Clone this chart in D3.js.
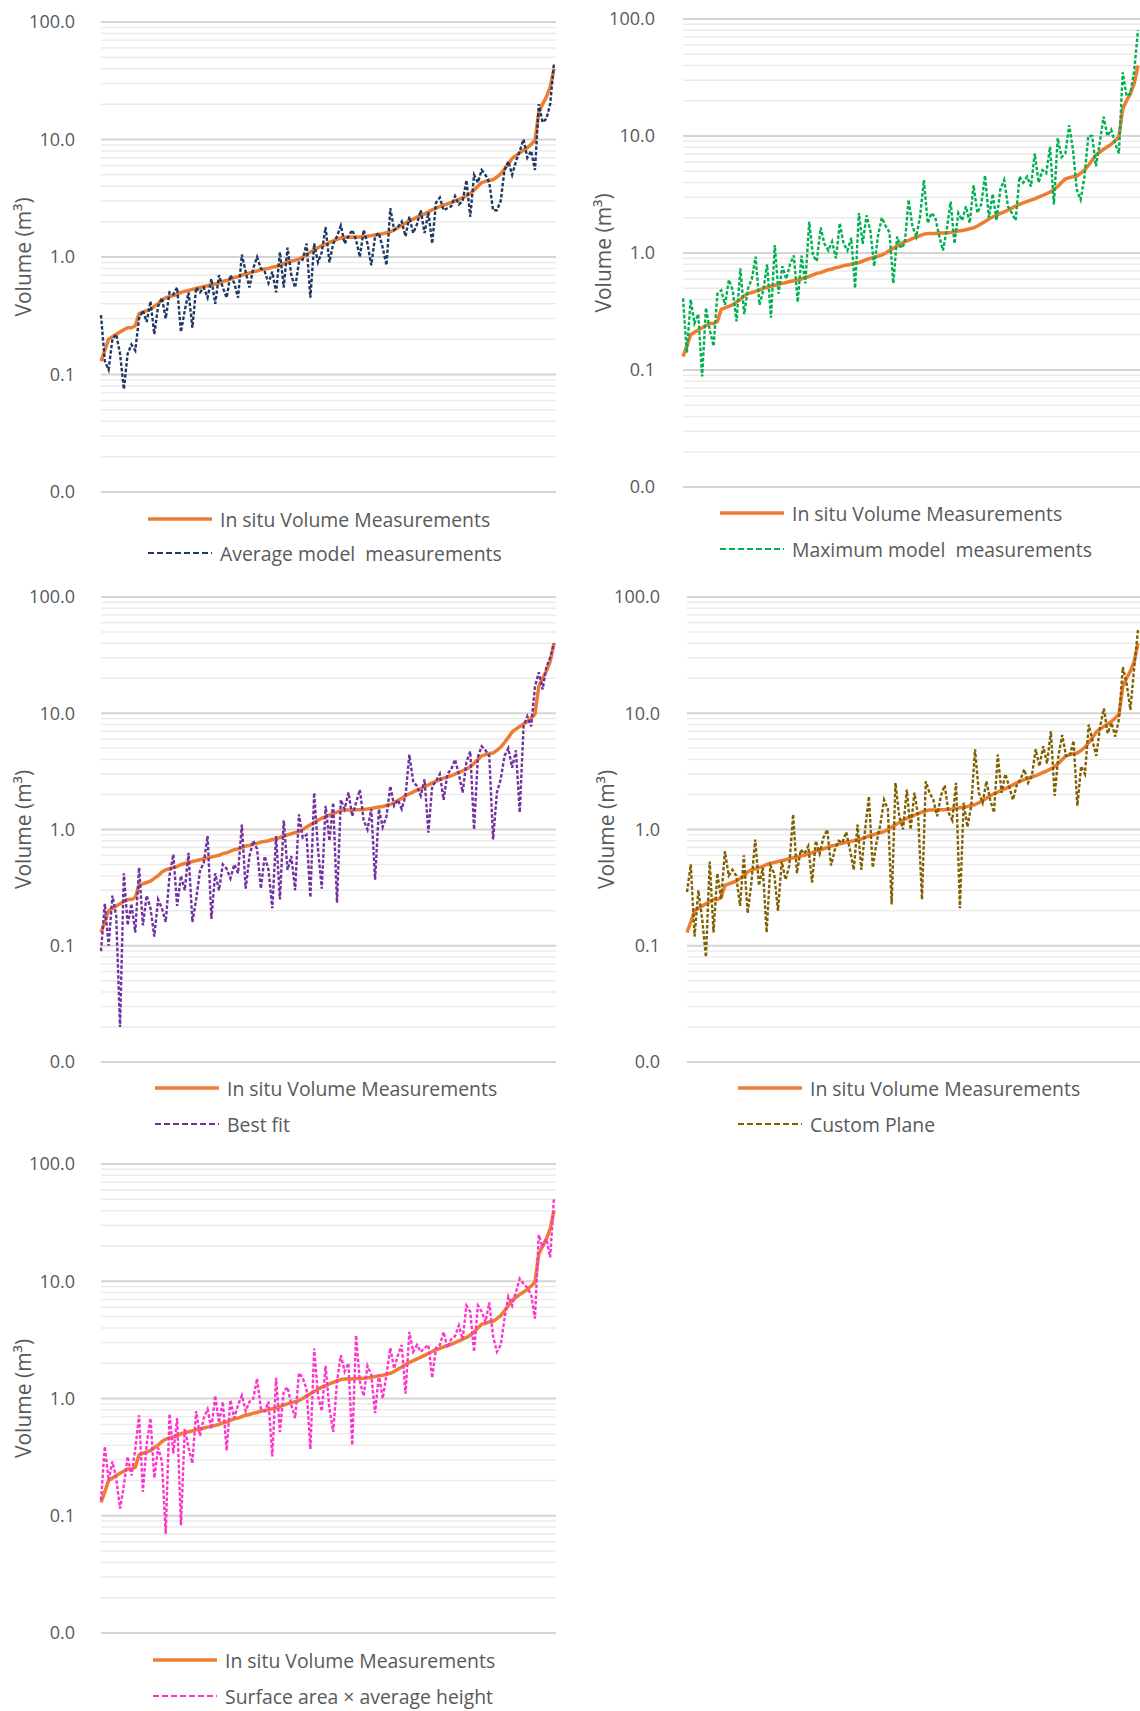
<!DOCTYPE html>
<html>
<head>
<meta charset="utf-8">
<title>Volume comparison</title>
<style>
  body { margin: 0; background: #fff; font-family: "Open Sans", sans-serif; }
  svg { display: block; }
</style>
</head>
<body>
<svg width="1140" height="1711"></svg>
<script src="https://d3js.org/d3.v7.min.js"></script>
<script>
// in situ volumes (m3), sorted; same series in every panel
const insitu = [0.13,0.16,0.2,0.21,0.22,0.23,0.24,0.25,0.25,0.26,
  0.33,0.34,0.35,0.36,0.38,0.40,0.43,0.45,0.46,0.47,
  0.48,0.50,0.51,0.52,0.53,0.54,0.55,0.56,0.57,0.58,
  0.59,0.60,0.62,0.63,0.65,0.67,0.68,0.70,0.72,0.73,
  0.75,0.76,0.78,0.79,0.80,0.82,0.83,0.85,0.88,0.90,
  0.92,0.94,0.96,1.0,1.05,1.1,1.15,1.2,1.25,1.28,
  1.33,1.37,1.41,1.45,1.47,1.47,1.47,1.48,1.48,1.49,
  1.50,1.52,1.54,1.56,1.58,1.61,1.64,1.70,1.78,1.86,
  1.95,2.03,2.1,2.18,2.25,2.33,2.42,2.52,2.6,2.68,
  2.76,2.83,2.9,3.0,3.1,3.2,3.32,3.47,3.7,4.0,
  4.3,4.4,4.5,4.55,4.8,5.1,5.6,6.2,6.9,7.3,
  7.7,8.1,8.5,9.1,9.8,17,20,23,28,40];

const avgModel = [0.32,0.13,0.11,0.2,0.22,0.15,0.075,0.15,0.18,0.16,
  0.3,0.35,0.28,0.42,0.22,0.38,0.45,0.3,0.5,0.48,
  0.55,0.23,0.35,0.5,0.25,0.55,0.5,0.55,0.45,0.65,
  0.4,0.7,0.55,0.45,0.7,0.6,0.45,1.05,0.75,0.55,
  0.8,1.0,0.8,0.75,0.6,0.75,0.5,1.1,0.55,1.2,
  0.7,0.55,0.9,0.95,1.3,0.45,1.3,0.9,1.1,1.8,
  0.9,1.3,1.5,1.85,1.3,1.5,1.7,1.4,1.0,1.7,
  1.3,0.85,1.5,1.6,1.2,0.85,2.6,1.7,1.8,2.0,
  1.5,2.2,1.6,1.9,2.5,1.6,2.4,1.3,2.9,3.2,
  2.5,2.6,2.7,3.3,2.8,3.0,4.5,2.2,5.0,4.3,
  5.5,5.0,4.3,2.5,2.5,3.0,5.5,6.5,5.0,6.5,
  8.0,10,7,8,5.5,20,14,15,20,45];

const maxModel = [0.41,0.14,0.40,0.25,0.30,0.088,0.34,0.22,0.16,0.45,
  0.48,0.36,0.59,0.48,0.26,0.74,0.30,0.50,0.60,0.93,
  0.36,0.48,0.80,0.28,1.17,0.45,0.77,0.60,0.80,0.95,
  0.38,0.95,0.55,1.85,0.95,0.85,1.65,1.2,1.05,1.25,
  0.9,1.8,1.2,1.05,1.35,0.5,2.2,1.2,2.1,1.55,
  0.77,1.4,2.0,1.7,1.5,0.55,1.38,1.1,1.2,2.85,
  1.7,1.38,2.05,4.2,1.8,2.2,2.0,1.4,1.05,1.6,
  2.75,1.2,2.2,1.9,2.5,1.8,3.8,2.2,2.6,4.6,
  2.0,3.2,1.9,3.5,4.2,2.5,2.2,1.9,4.5,4.0,
  4.5,3.7,7.1,4.0,5.1,4.8,8.1,2.6,9.6,6.6,
  7.1,12.4,7.6,3.45,2.85,4.5,10,10,5.5,8.7,
  14.6,10,11.3,8.7,7.1,35,22,23,36,80];

const bestFit = [0.09,0.23,0.10,0.27,0.18,0.02,0.42,0.15,0.23,0.13,
  0.47,0.15,0.27,0.21,0.12,0.25,0.21,0.16,0.4,0.61,
  0.22,0.4,0.3,0.63,0.16,0.25,0.44,0.52,0.88,0.17,
  0.42,0.3,0.5,0.46,0.38,0.5,0.42,1.1,0.31,0.59,
  0.8,0.68,0.31,0.59,0.45,0.21,0.88,0.25,1.2,0.45,
  0.59,0.3,1.35,0.85,0.9,0.26,2.07,0.68,0.31,1.6,
  0.8,1.7,0.235,1.8,1.5,2.08,1.3,1.7,2.2,1.2,
  1.0,1.5,0.37,1.5,1.05,1.3,2.36,1.6,1.8,1.5,
  1.95,4.4,2.6,2.36,1.95,2.7,0.94,2.36,2.6,3.0,
  1.8,3.0,3.3,4.0,3.0,2.08,3.8,4.7,1.0,4.2,
  5.2,4.8,4.3,0.82,2.08,2.7,4.3,5.0,3.4,4.8,
  1.4,7.7,9.4,7.7,17,22.5,16,25,30,40];

const customPlane = [0.29,0.5,0.12,0.3,0.17,0.08,0.53,0.13,0.42,0.25,
  0.65,0.4,0.45,0.4,0.22,0.6,0.19,0.35,0.82,0.33,
  0.47,0.13,0.49,0.42,0.2,0.53,0.37,0.49,1.35,0.42,
  0.67,0.62,0.72,0.35,0.8,0.62,0.85,1.0,0.49,0.67,
  0.8,0.77,0.95,0.67,0.45,1.1,0.45,1.0,1.93,0.47,
  0.77,1.1,1.8,1.5,0.227,2.52,1.3,1.0,2.2,1.0,
  2.07,1.3,0.25,2.6,2.07,1.8,1.3,1.95,2.4,1.4,
  1.2,2.52,0.21,1.7,1.05,1.6,4.9,2.07,1.7,2.6,
  1.8,1.4,4.4,2.07,3.0,2.35,1.8,2.4,2.7,3.3,
  2.52,2.9,4.9,3.5,5.2,3.7,7.0,1.95,4.3,6.5,
  4.3,4.3,5.8,1.6,3.5,3.0,8.0,5.8,4.3,7.7,
  11,6.7,8.3,6.3,9.0,25,18,10.7,25,52];

const surfaceArea = [0.136,0.39,0.2,0.29,0.21,0.115,0.18,0.32,0.22,0.37,
  0.72,0.16,0.41,0.68,0.21,0.38,0.29,0.07,0.74,0.34,
  0.68,0.083,0.55,0.38,0.28,0.78,0.48,0.68,0.81,0.55,
  1.06,0.62,0.94,0.36,0.97,0.68,0.88,1.06,0.78,0.94,
  1.0,1.48,0.82,0.78,0.94,0.32,1.5,0.52,1.15,1.25,
  0.88,0.68,1.65,1.5,1.2,0.37,2.67,1.06,0.78,1.9,
  0.82,0.52,1.4,2.34,1.7,2.0,0.4,3.46,1.4,1.05,
  1.9,1.6,0.75,1.6,1.0,1.6,2.7,1.8,2.34,2.86,
  1.1,3.7,2.5,2.86,2.5,2.7,2.86,1.5,2.7,2.86,
  3.7,2.7,3.2,3.4,4.2,3.2,6.2,5.5,2.5,6.2,
  5.5,4.5,6.6,3.4,2.5,2.86,4.8,7.4,6.2,8.1,
  10.5,9.5,8.8,7.7,4.8,24.8,19.5,23,16,52];

const tickValues = [100, 10, 1, 0.1, 0.01];
const tickLabels = ["100.0", "10.0", "1.0", "0.1", "0.0"];
const insituLabel = "In situ Volume Measurements";
const samples = d3.range(insitu.length);

// panel layout
const panels = [
  {values: avgModel, label: "Average model  measurements", color: "#1F3864",
   left: 101, right: 556, top: 22, bottom: 492, tickX: 75, titleX: 23, legX: 148, legY: 519, legGap: 34},
  {values: maxModel, label: "Maximum model  measurements", color: "#00B050",
   left: 683, right: 1140, top: 19, bottom: 487, tickX: 655, titleX: 603, legX: 720, legY: 513, legGap: 36},
  {values: bestFit, label: "Best fit", color: "#7030A0",
   left: 101, right: 556, top: 597, bottom: 1062, tickX: 75, titleX: 23, legX: 155, legY: 1088, legGap: 36},
  {values: customPlane, label: "Custom Plane", color: "#7F6000",
   left: 687, right: 1140, top: 597, bottom: 1062, tickX: 660, titleX: 606, legX: 738, legY: 1088, legGap: 36},
  {values: surfaceArea, label: "Surface area \u00d7 average height", color: "#FF33CC",
   left: 101, right: 556, top: 1164, bottom: 1633, tickX: 75, titleX: 23, legX: 153, legY: 1660, legGap: 36}
];

const svg = d3.select("svg");
const orange = "#ED7D31";

panels.forEach(p => {
  const g = svg.append("g");
  const x = d3.scalePoint().domain(samples).range([p.left, p.right - 2]);
  const y = d3.scaleLog().domain([0.01, 100]).range([p.bottom, p.top]);

  const isMajor = d => Math.abs(Math.log10(d) - Math.round(Math.log10(d))) < 1e-6;

  g.append("g").selectAll("line")
    .data(y.ticks())
    .join("line")
    .attr("x1", p.left).attr("x2", p.right)
    .attr("y1", d => y(d)).attr("y2", d => y(d))
    .attr("stroke", d => isMajor(d) ? "#D4D4D4" : "#EBEBEB")
    .attr("stroke-width", d => isMajor(d) ? 2 : 1.5);

  const axis = d3.axisLeft(y)
    .tickValues(tickValues)
    .tickFormat((d, i) => tickLabels[i])
    .tickSize(0)
    .tickPadding(0);
  const ax = g.append("g")
    .attr("transform", `translate(${p.tickX},0)`)
    .call(axis);
  ax.select(".domain").remove();
  ax.selectAll("text")
    .attr("fill", "#595959")
    .style("font-family", "'Open Sans', sans-serif")
    .style("font-size", "18px");

  g.append("text")
    .attr("transform", `translate(${p.titleX},${(p.top + p.bottom) / 2}) rotate(-90)`)
    .attr("text-anchor", "middle")
    .attr("dominant-baseline", "central")
    .attr("fill", "#595959")
    .style("font-size", "21px")
    .text("Volume (m\u00b3)");

  const line = d3.line()
    .x((d, i) => x(samples[i]))
    .y(d => y(d));

  g.append("path")
    .datum(insitu)
    .attr("d", line)
    .attr("fill", "none")
    .attr("stroke", orange)
    .attr("stroke-width", 3.5)
    .attr("stroke-linejoin", "round");

  g.append("path")
    .datum(p.values)
    .attr("d", line)
    .attr("fill", "none")
    .attr("stroke", p.color)
    .attr("stroke-width", 2.4)
    .attr("stroke-dasharray", "3.5,2");

  // legend
  const legend = [
    {label: insituLabel, color: orange, dash: null, w: 3.5},
    {label: p.label, color: p.color, dash: "6,3", w: 2.2}
  ];
  legend.forEach((l, i) => {
    const ly = p.legY + i * p.legGap;
    g.append("line")
      .attr("x1", p.legX).attr("x2", p.legX + 64)
      .attr("y1", ly).attr("y2", ly)
      .attr("stroke", l.color)
      .attr("stroke-width", l.w)
      .attr("stroke-dasharray", l.dash);
    g.append("text")
      .attr("x", p.legX + 72).attr("y", ly)
      .attr("dominant-baseline", "central")
      .attr("fill", "#595959")
      .style("font-size", "19.4px")
      .style("white-space", "pre")
      .text(l.label);
  });
});
</script>
</body>
</html>
